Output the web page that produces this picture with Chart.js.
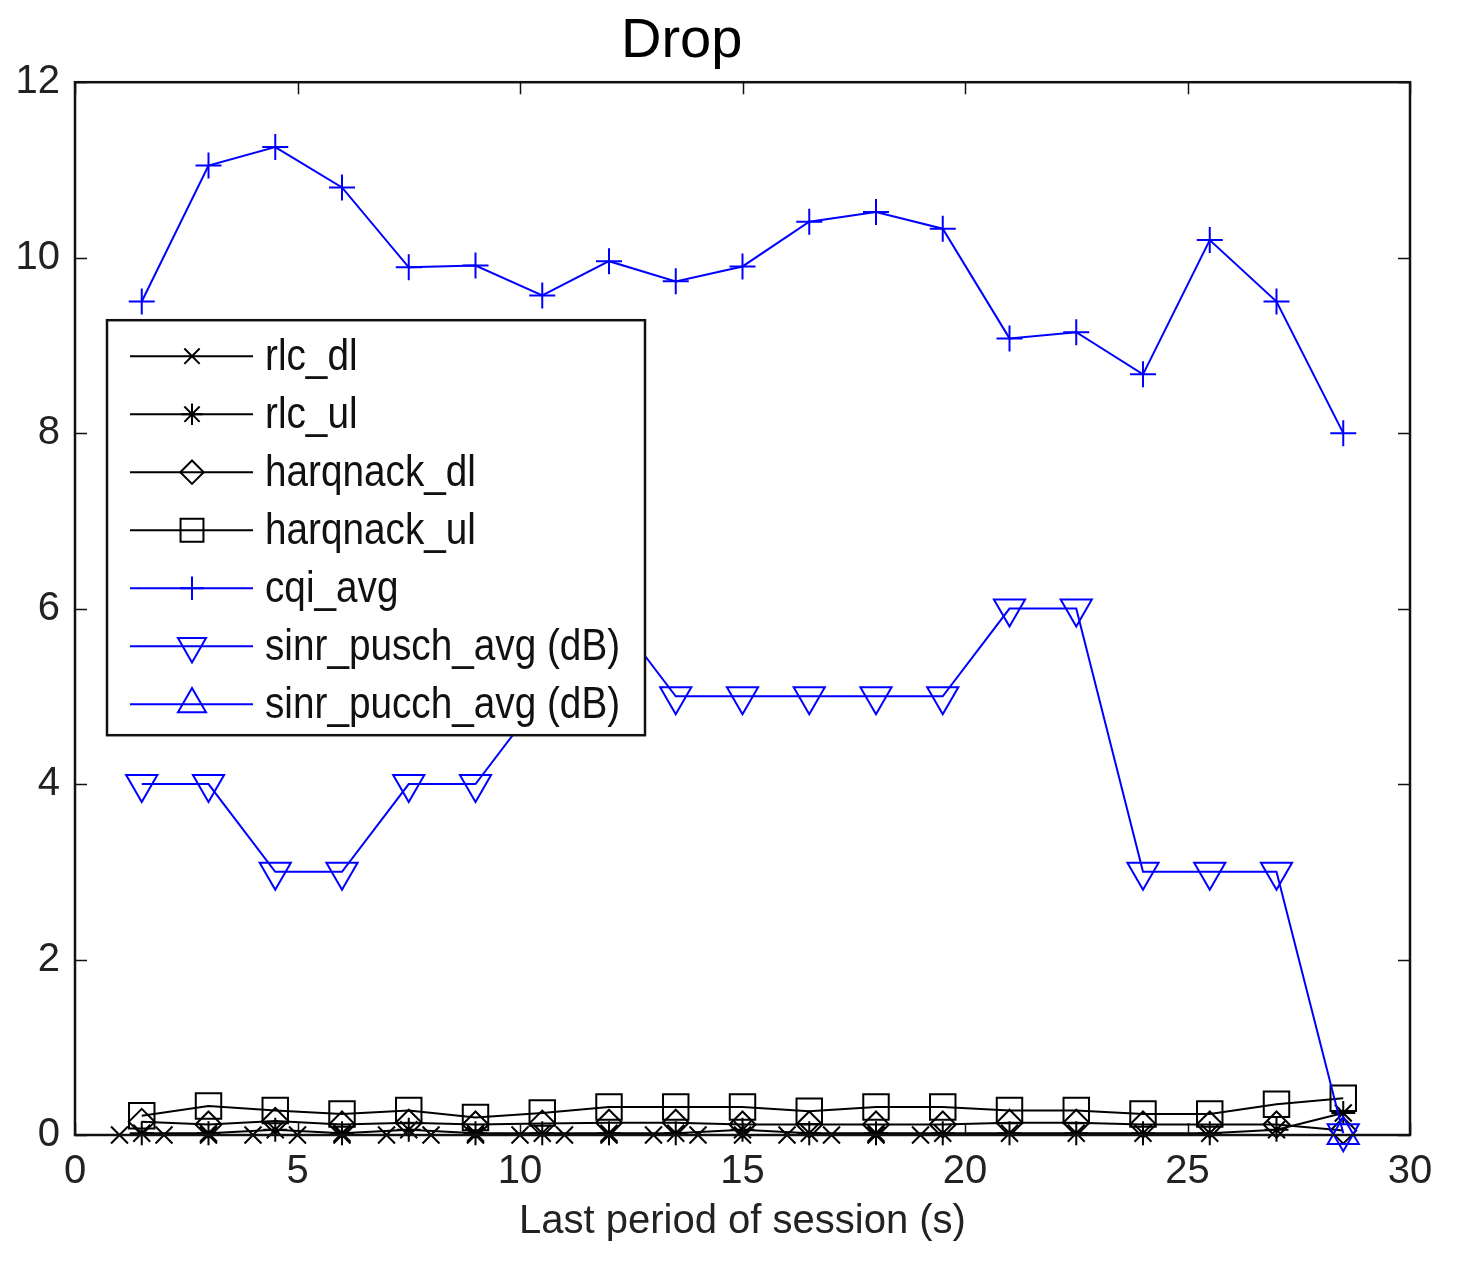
<!DOCTYPE html>
<html>
<head>
<meta charset="utf-8">
<title>Drop</title>
<script src="https://cdn.jsdelivr.net/npm/chart.js@4.4.1/dist/chart.umd.min.js"></script>
<style>
  html, body { margin: 0; padding: 0; background: #fff; }
  #wrap { width: 1472px; height: 1278px; }
</style>
</head>
<body>
<div id="wrap"><canvas id="dropChart"></canvas></div>
<script>
'use strict';

// --- data ---
const SAMPLE_X = [1.5, 3, 4.5, 6, 7.5, 9, 10.5, 12, 13.5, 15, 16.5, 18, 19.5, 21, 22.5, 24, 25.5, 27, 28.5];
const RLC_DL_X = [1, 2, 3, 4, 5, 6, 7, 8, 9, 10, 11, 12, 13, 14, 15, 16, 17, 18, 19];
const RLC_DL = [0, 0, 0, 0, 0, 0, 0, 0, 0, 0, 0, 0, 0, 0, 0, 0, 0, 0, 0];
const RLC_UL = [0.02, 0.02, 0.06, 0.02, 0.06, 0.02, 0.02, 0.02, 0.02, 0.06, 0.02, 0.02, 0.02, 0.02, 0.02, 0.02, 0.02, 0.06, 0.25];
const HARQNACK_DL = [0.15, 0.12, 0.16, 0.12, 0.14, 0.12, 0.13, 0.14, 0.14, 0.12, 0.12, 0.12, 0.12, 0.14, 0.14, 0.12, 0.12, 0.12, 0.05];
const HARQNACK_UL = [0.22, 0.33, 0.28, 0.24, 0.28, 0.2, 0.25, 0.32, 0.32, 0.32, 0.27, 0.32, 0.32, 0.28, 0.28, 0.24, 0.24, 0.35, 0.42];
const CQI_AVG = [9.5, 11.05, 11.26, 10.8, 9.89, 9.91, 9.57, 9.96, 9.73, 9.9, 10.41, 10.52, 10.33, 9.08, 9.15, 8.67, 10.2, 9.5, 8.0];
const SINR_PUSCH = [4, 4, 3, 3, 4, 4, 5, 6, 5, 5, 5, 5, 5, 6, 6, 3, 3, 3, 0.02];
const SINR_PUCCH = [null, null, null, null, null, null, null, null, null, null, null, null, null, null, null, null, null, null, 0];
const X_TICKS = [0, 5, 10, 15, 20, 25, 30];
const Y_TICKS = [0, 2, 4, 6, 8, 10, 12];

const BLUE = '#0000ff';
const BLACK = '#000000';
const SANS = "'Liberation Sans', Arial, sans-serif";

function pts(xs, ys) {
  return xs.map((x, i) => ({ x: x, y: ys[i] }));
}

function series(label, xs, ys, color, style, radius, rotation, idx) {
  return {
    label: label,
    data: pts(xs, ys),
    borderColor: color,
    backgroundColor: 'rgba(0,0,0,0)',
    borderWidth: 2,
    pointStyle: style,
    pointRadius: radius,
    pointRotation: rotation,
    pointBorderColor: color,
    pointBackgroundColor: 'rgba(0,0,0,0)',
    pointBorderWidth: 2,
    tension: 0,
    spanGaps: false,
    clip: false,
    order: 10 - idx,
  };
}

const datasets = [
  series('rlc_dl', RLC_DL_X, RLC_DL, BLACK, 'crossRot', 12, 0, 0),
  series('rlc_ul', SAMPLE_X, RLC_UL, BLACK, 'star', 12, 0, 1),
  series('harqnack_dl', SAMPLE_X, HARQNACK_DL, BLACK, 'rectRot', 13, 0, 2),
  series('harqnack_ul', SAMPLE_X, HARQNACK_UL, BLACK, 'rect', 18, 0, 3),
  series('cqi_avg', SAMPLE_X, CQI_AVG, BLUE, 'cross', 13, 0, 4),
  series('sinr_pusch_avg (dB)', SAMPLE_X, SINR_PUSCH, BLUE, 'triangle', 18, 180, 5),
  series('sinr_pucch_avg (dB)', SAMPLE_X, SINR_PUCCH, BLUE, 'triangle', 18, 0, 6),
];

// box round the plot and inward ticks on all four sides
const boxPlugin = {
  id: 'boxPlugin',
  afterDraw(chart) {
    const { ctx, chartArea: a, scales } = chart;
    const len = 12;
    ctx.save();
    ctx.strokeStyle = '#111';
    ctx.lineWidth = 1.5;
    ctx.beginPath();
    X_TICKS.forEach(v => {
      const px = Math.round(scales.x.getPixelForValue(v)) + 0.5;
      ctx.moveTo(px, a.bottom); ctx.lineTo(px, a.bottom - len);
      ctx.moveTo(px, a.top); ctx.lineTo(px, a.top + len);
    });
    Y_TICKS.forEach(v => {
      const py = Math.round(scales.y.getPixelForValue(v)) + 0.5;
      ctx.moveTo(a.left, py); ctx.lineTo(a.left + len, py);
      ctx.moveTo(a.right, py); ctx.lineTo(a.right - len, py);
    });
    ctx.stroke();
    ctx.lineWidth = 2.5;
    ctx.strokeRect(a.left, a.top, a.right - a.left, a.bottom - a.top);
    ctx.restore();
  },
};

// matlab style legend box inside the axes
const legendBox = {
  id: 'legendBox',
  afterDatasetsDraw(chart) {
    const { ctx, chartArea: a } = chart;
    const left = a.left + 32, top = a.top + 238, w = 538, h = 415;
    ctx.save();
    ctx.fillStyle = '#fff';
    ctx.fillRect(left, top, w, h);
    ctx.lineWidth = 2.5;
    ctx.strokeStyle = '#111';
    ctx.strokeRect(left, top, w, h);
    chart.data.datasets.forEach((ds, i) => {
      const y = top + 36 + i * 58;
      ctx.strokeStyle = ds.borderColor;
      ctx.lineWidth = 2;
      ctx.beginPath();
      ctx.moveTo(left + 23, y);
      ctx.lineTo(left + 146, y);
      ctx.stroke();
      ctx.fillStyle = 'rgba(0,0,0,0)';
      Chart.helpers.drawPoint(ctx, {
        pointStyle: ds.pointStyle,
        radius: ds.pointRadius * 0.9,
        rotation: ds.pointRotation,
        borderWidth: 2,
      }, left + 85, y);
      // narrow text like the old matlab rendering
      ctx.save();
      ctx.translate(left + 158, y + 2);
      ctx.scale(0.88, 1);
      ctx.font = '44px ' + SANS;
      ctx.textBaseline = 'middle';
      ctx.textAlign = 'left';
      ctx.fillStyle = '#111';
      ctx.fillText(ds.label, 0, 0);
      ctx.restore();
    });
    ctx.restore();
  },
};

new Chart(document.getElementById('dropChart').getContext('2d'), {
  type: 'line',
  data: { datasets: datasets },
  plugins: [boxPlugin, legendBox],
  options: {
    responsive: true,
    maintainAspectRatio: false,
    animation: false,
    layout: { padding: { left: 0, right: 62, top: 0, bottom: 0 } },
    plugins: {
      legend: { display: false },
      tooltip: { enabled: false },
      title: {
        display: true,
        text: 'Drop   ',
        color: '#000',
        font: { family: SANS, size: 56, weight: 'normal' },
        padding: { top: 8, bottom: 7 },
      },
    },
    scales: {
      x: {
        type: 'linear',
        min: 0,
        max: 30,
        afterFit: s => { s.height = 143; },
        afterBuildTicks: s => { s.ticks = X_TICKS.map(v => ({ value: v })); },
        grid: { display: false, drawTicks: false },
        border: { display: false },
        ticks: { color: '#222', padding: 13, font: { family: SANS, size: 40 } },
        title: {
          display: true,
          text: 'Last period of session (s)',
          color: '#222',
          font: { family: SANS, size: 40 },
          padding: { top: 0, bottom: 32 },
        },
      },
      y: {
        min: 0,
        max: 12,
        afterFit: s => { s.width = 75; },
        afterBuildTicks: s => { s.ticks = Y_TICKS.map(v => ({ value: v })); },
        grid: { display: false, drawTicks: false },
        border: { display: false },
        ticks: { color: '#222', padding: 15, font: { family: SANS, size: 40 } },
      },
    },
  },
});
</script>
</body>
</html>
